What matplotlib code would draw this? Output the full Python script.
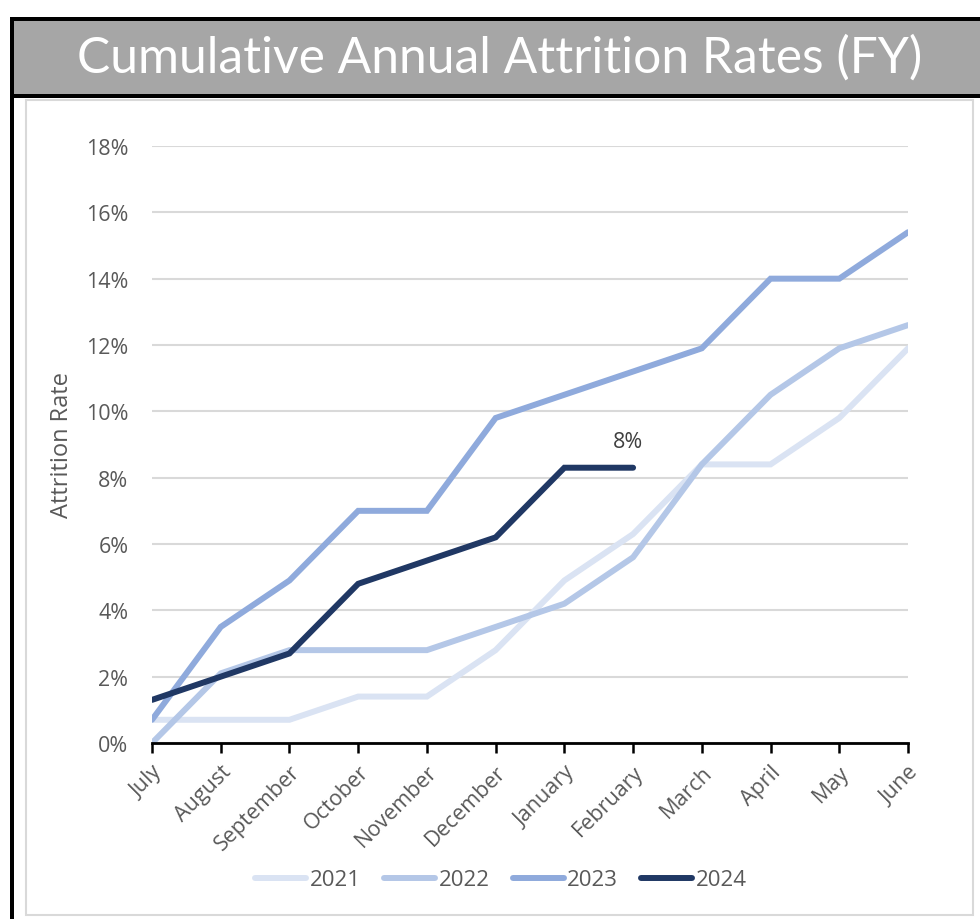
import matplotlib
matplotlib.use("Agg")
import matplotlib.pyplot as plt
from matplotlib.patches import Rectangle
from matplotlib.ticker import FuncFormatter, MultipleLocator

months = ["July", "August", "September", "October", "November", "December",
          "January", "February", "March", "April", "May", "June"]
y2021 = [0.7, 0.7, 0.7, 1.4, 1.4, 2.8, 4.9, 6.3, 8.4, 8.4, 9.8, 11.9]
y2022 = [0.0, 2.1, 2.8, 2.8, 2.8, 3.5, 4.2, 5.6, 8.4, 10.5, 11.9, 12.6]
y2023 = [0.7, 3.5, 4.9, 7.0, 7.0, 9.8, 10.5, 11.2, 11.9, 14.0, 14.0, 15.4]
y2024 = [1.3, 2.0, 2.7, 4.8, 5.5, 6.2, 8.3, 8.3]
series_names = ["2021", "2022", "2023", "2024"]
colors = ["#DAE3F3", "#B4C7E7", "#8FAADC", "#203864"]
title = "Cumulative Annual Attrition Rates (FY)"

plt.rcParams['font.family'] = ['Open Sans', 'DejaVu Sans']

W, H = 980, 920
fig = plt.figure(figsize=(W / 100, H / 100), dpi=100)

def fx(px):
    return px / W

def fy(py):
    return 1 - py / H

# frame: black borders, gray title bar, inner light border
fig.patches.append(Rectangle((fx(10), fy(920)), fx(970), fy(18) - fy(920),
                             transform=fig.transFigure, facecolor="black",
                             edgecolor="none", zorder=0))
fig.patches.append(Rectangle((fx(14), fy(95)), fx(966), fy(22) - fy(95),
                             transform=fig.transFigure, facecolor="#A6A6A6",
                             edgecolor="none", zorder=1))
fig.patches.append(Rectangle((fx(14), fy(920)), fx(966), fy(99) - fy(920),
                             transform=fig.transFigure, facecolor="white",
                             edgecolor="none", zorder=1))
fig.patches.append(Rectangle((fx(26), fy(916)), fx(947), fy(101) - fy(916),
                             transform=fig.transFigure, facecolor="white",
                             edgecolor="#D9D9D9", linewidth=1.5, zorder=2))
fig.text(fx(500), fy(58), title, color="white", fontsize=35.8,
         family=['Lato', 'DejaVu Sans'], ha="center", va="center", zorder=3)

ax = fig.add_axes([fx(152), fy(744), fx(908) - fx(152), fy(147) - fy(744)])
ax.set_zorder(5)
ax.patch.set_alpha(0)

data = [y2021, y2022, y2023, y2024]
for vals, name, c in zip(data, series_names, colors):
    ax.plot(range(len(vals)), vals, color=c, lw=4.3, label=name,
            solid_capstyle="round", solid_joinstyle="miter", zorder=3)

ax.annotate("8%", (len(y2024) - 1, y2024[-1]), xytext=(-4, 11),
            textcoords="offset points", ha="center", va="bottom",
            fontsize=15.5, color="#404040")

ax.set_xlim(0, len(months) - 1)
ax.set_ylim(0, 18)
ax.yaxis.set_major_locator(MultipleLocator(2))
ax.yaxis.set_major_formatter(FuncFormatter(lambda v, p: f"{v:.0f}%"))
ax.set_xticks(range(len(months)))
ax.set_xticklabels(months, rotation=45, ha="right", rotation_mode="anchor")
ax.grid(axis="y", color="#D9D9D9", lw=1.5)
ax.set_axisbelow(True)
for s in ["top", "right", "left"]:
    ax.spines[s].set_visible(False)
ax.spines["bottom"].set_color("black")
ax.spines["bottom"].set_linewidth(2)
ax.spines["bottom"].set_zorder(4)
ax.tick_params(axis="x", length=7, width=1.8, color="black", labelsize=15.5,
               labelcolor="#595959", pad=6)
ax.tick_params(axis="y", length=0, labelsize=15.5, labelcolor="#595959", pad=17)
ax.set_ylabel("Attrition Rate", fontsize=17, color="#595959")
ax.yaxis.set_label_coords((74 - 152) / 756, 0.5)

leg = fig.legend(loc="center", bbox_to_anchor=(fx(501), fy(881)), ncol=4,
                 frameon=False, fontsize=16, handlelength=2.3,
                 columnspacing=1.05, handletextpad=0.15)
for t in leg.get_texts():
    t.set_color("#595959")

fig.savefig("out.png", dpi=100)
